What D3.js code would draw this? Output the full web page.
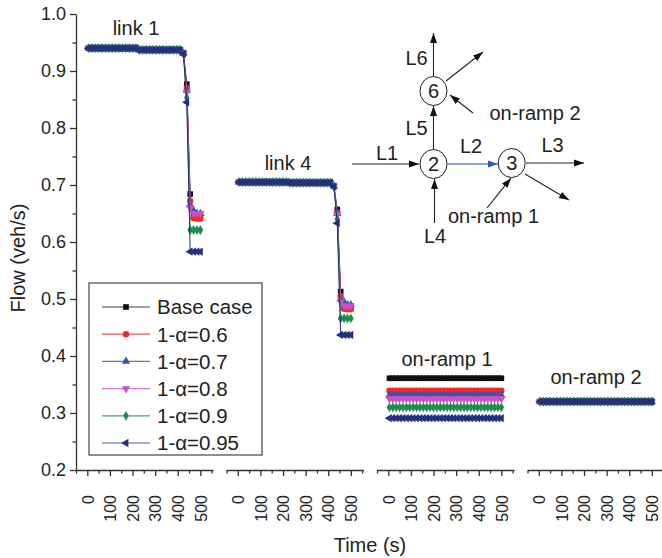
<!DOCTYPE html>
<html><head><meta charset="utf-8">
<script src="https://cdn.jsdelivr.net/npm/d3@7"></script>
<style>
body{margin:0;background:#fff}
svg{display:block}
text{font-family:"Liberation Sans",Arial,Helvetica,sans-serif;fill:#222}
</style>
</head><body>
<svg id="c" width="662" height="558"></svg>
<script>
// ---------- data ----------
const times = [5,20,35,50,65,80,95,110,125,140,155,170,185,200,215,230,245,260,275,290,305,320,335,350,365,380,395,410,425,440,455,470,485,500];
const seriesNames = ["Base case","1-\u03b1=0.6","1-\u03b1=0.7","1-\u03b1=0.8","1-\u03b1=0.9","1-\u03b1=0.95"];
const seriesColors = ["#111111","#f02828","#3a56b0","#c850c8","#1f8c4e","#24307f"];
const panelTitles = ["link 1","link 4","on-ramp 1","on-ramp 2"];
const yMajorTicks = [0.2,0.3,0.4,0.5,0.6,0.7,0.8,0.9,1.0];
const yMinorTicks = [0.25,0.35,0.45,0.55,0.65,0.75,0.85,0.95];
const xMajorTicks = [0,100,200,300,400,500];
const xMinorTicks = [-50,50,150,250,350,450,550];

const link1 = [
 [0.940,0.940,0.940,0.940,0.940,0.940,0.940,0.940,0.940,0.940,0.940,0.940,0.940,0.940,0.940,0.937,0.937,0.937,0.937,0.937,0.937,0.937,0.937,0.937,0.937,0.937,0.937,0.937,0.932,0.877,0.684,0.645,0.645,0.645],
 [0.940,0.940,0.940,0.940,0.940,0.940,0.940,0.940,0.940,0.940,0.940,0.940,0.940,0.940,0.940,0.937,0.937,0.937,0.937,0.937,0.937,0.937,0.937,0.937,0.937,0.937,0.937,0.937,0.931,0.870,0.672,0.642,0.641,0.641],
 [0.940,0.940,0.940,0.940,0.940,0.940,0.940,0.940,0.940,0.940,0.940,0.940,0.940,0.940,0.940,0.937,0.937,0.937,0.937,0.937,0.937,0.937,0.937,0.937,0.937,0.937,0.937,0.937,0.931,0.866,0.665,0.655,0.650,0.650],
 [0.940,0.940,0.940,0.940,0.940,0.940,0.940,0.940,0.940,0.940,0.940,0.940,0.940,0.940,0.940,0.937,0.937,0.937,0.937,0.937,0.937,0.937,0.937,0.937,0.937,0.937,0.937,0.937,0.931,0.863,0.660,0.650,0.650,0.650],
 [0.940,0.940,0.940,0.940,0.940,0.940,0.940,0.940,0.940,0.940,0.940,0.940,0.940,0.940,0.940,0.937,0.937,0.937,0.937,0.937,0.937,0.937,0.937,0.937,0.937,0.937,0.937,0.937,0.930,0.853,0.621,0.621,0.621,0.621],
 [0.940,0.940,0.940,0.940,0.940,0.940,0.940,0.940,0.940,0.940,0.940,0.940,0.940,0.940,0.940,0.937,0.937,0.937,0.937,0.937,0.937,0.937,0.937,0.937,0.937,0.937,0.937,0.937,0.930,0.845,0.583,0.583,0.583,0.583]
];
const link4 = [
 [0.705,0.705,0.705,0.705,0.705,0.705,0.705,0.705,0.705,0.705,0.705,0.705,0.705,0.705,0.705,0.704,0.704,0.704,0.704,0.704,0.704,0.704,0.704,0.704,0.704,0.704,0.704,0.704,0.698,0.657,0.513,0.487,0.487,0.487],
 [0.705,0.705,0.705,0.705,0.705,0.705,0.705,0.705,0.705,0.705,0.705,0.705,0.705,0.705,0.705,0.704,0.704,0.704,0.704,0.704,0.704,0.704,0.704,0.704,0.704,0.704,0.704,0.704,0.698,0.652,0.505,0.483,0.482,0.482],
 [0.705,0.705,0.705,0.705,0.705,0.705,0.705,0.705,0.705,0.705,0.705,0.705,0.705,0.705,0.705,0.704,0.704,0.704,0.704,0.704,0.704,0.704,0.704,0.704,0.704,0.704,0.704,0.704,0.698,0.650,0.500,0.495,0.490,0.490],
 [0.705,0.705,0.705,0.705,0.705,0.705,0.705,0.705,0.705,0.705,0.705,0.705,0.705,0.705,0.705,0.704,0.704,0.704,0.704,0.704,0.704,0.704,0.704,0.704,0.704,0.704,0.704,0.704,0.698,0.648,0.495,0.488,0.488,0.488],
 [0.705,0.705,0.705,0.705,0.705,0.705,0.705,0.705,0.705,0.705,0.705,0.705,0.705,0.705,0.705,0.704,0.704,0.704,0.704,0.704,0.704,0.704,0.704,0.704,0.704,0.704,0.704,0.704,0.697,0.640,0.466,0.466,0.466,0.466],
 [0.705,0.705,0.705,0.705,0.705,0.705,0.705,0.705,0.705,0.705,0.705,0.705,0.705,0.705,0.705,0.704,0.704,0.704,0.704,0.704,0.704,0.704,0.704,0.704,0.704,0.704,0.704,0.704,0.697,0.633,0.437,0.437,0.437,0.437]
];
const onramp1 = [
 [0.361,0.361,0.361,0.361,0.361,0.361,0.361,0.361,0.361,0.361,0.361,0.361,0.361,0.361,0.361,0.361,0.361,0.361,0.361,0.361,0.361,0.361,0.361,0.361,0.361,0.361,0.361,0.361,0.361,0.361,0.361,0.361,0.361,0.361],
 [0.339,0.339,0.339,0.339,0.339,0.339,0.339,0.339,0.339,0.339,0.339,0.339,0.339,0.339,0.339,0.339,0.339,0.339,0.339,0.339,0.339,0.339,0.339,0.339,0.339,0.339,0.339,0.339,0.339,0.339,0.339,0.339,0.339,0.339],
 [0.331,0.331,0.331,0.331,0.331,0.331,0.331,0.331,0.331,0.331,0.331,0.331,0.331,0.331,0.331,0.331,0.331,0.331,0.331,0.331,0.331,0.331,0.331,0.331,0.331,0.331,0.331,0.331,0.331,0.331,0.331,0.331,0.331,0.331],
 [0.325,0.325,0.325,0.325,0.325,0.325,0.325,0.325,0.325,0.325,0.325,0.325,0.325,0.325,0.325,0.325,0.325,0.325,0.325,0.325,0.325,0.325,0.325,0.325,0.325,0.325,0.325,0.325,0.325,0.325,0.325,0.325,0.325,0.325],
 [0.310,0.310,0.310,0.310,0.310,0.310,0.310,0.310,0.310,0.310,0.310,0.310,0.310,0.310,0.310,0.310,0.310,0.310,0.310,0.310,0.310,0.310,0.310,0.310,0.310,0.310,0.310,0.310,0.310,0.310,0.310,0.310,0.310,0.310],
 [0.291,0.291,0.291,0.291,0.291,0.291,0.291,0.291,0.291,0.291,0.291,0.291,0.291,0.291,0.291,0.291,0.291,0.291,0.291,0.291,0.291,0.291,0.291,0.291,0.291,0.291,0.291,0.291,0.291,0.291,0.291,0.291,0.291,0.291]
];
const onramp2 = [
 [0.320,0.320,0.320,0.320,0.320,0.320,0.320,0.320,0.320,0.320,0.320,0.320,0.320,0.320,0.320,0.320,0.320,0.320,0.320,0.320,0.320,0.320,0.320,0.320,0.320,0.320,0.320,0.320,0.320,0.320,0.320,0.320,0.320,0.320],
 [0.320,0.320,0.320,0.320,0.320,0.320,0.320,0.320,0.320,0.320,0.320,0.320,0.320,0.320,0.320,0.320,0.320,0.320,0.320,0.320,0.320,0.320,0.320,0.320,0.320,0.320,0.320,0.320,0.320,0.320,0.320,0.320,0.320,0.320],
 [0.320,0.320,0.320,0.320,0.320,0.320,0.320,0.320,0.320,0.320,0.320,0.320,0.320,0.320,0.320,0.320,0.320,0.320,0.320,0.320,0.320,0.320,0.320,0.320,0.320,0.320,0.320,0.320,0.320,0.320,0.320,0.320,0.320,0.320],
 [0.320,0.320,0.320,0.320,0.320,0.320,0.320,0.320,0.320,0.320,0.320,0.320,0.320,0.320,0.320,0.320,0.320,0.320,0.320,0.320,0.320,0.320,0.320,0.320,0.320,0.320,0.320,0.320,0.320,0.320,0.320,0.320,0.320,0.320],
 [0.320,0.320,0.320,0.320,0.320,0.320,0.320,0.320,0.320,0.320,0.320,0.320,0.320,0.320,0.320,0.320,0.320,0.320,0.320,0.320,0.320,0.320,0.320,0.320,0.320,0.320,0.320,0.320,0.320,0.320,0.320,0.320,0.320,0.320],
 [0.320,0.320,0.320,0.320,0.320,0.320,0.320,0.320,0.320,0.320,0.320,0.320,0.320,0.320,0.320,0.320,0.320,0.320,0.320,0.320,0.320,0.320,0.320,0.320,0.320,0.320,0.320,0.320,0.320,0.320,0.320,0.320,0.320,0.320]
];
const panels = [link1, link4, onramp1, onramp2];

// ---------- layout ----------
const svg = d3.select("#c");
const yTop = 14, yBot = 470;
const panelLeft = [76, 226.5, 377, 527.5];
const panelW = 137;
const xDomain = [-50, 556];
const y = d3.scaleLinear().domain([0.2, 1.0]).range([yBot, yTop]);
const axisColor = "#333";

// symbols
const symTypes = [d3.symbolSquare, d3.symbolCircle, d3.symbolTriangle, d3.symbolTriangle, d3.symbolDiamond, d3.symbolTriangle];
const symRot = [0, 0, 0, 180, 0, -90];
const symSize = [32, 32, 30, 30, 28, 30];
function symbolPath(i){ return d3.symbol().type(symTypes[i]).size(symSize[i])(); }

// y axis
const yAxisG = svg.append("g").attr("transform", `translate(${panelLeft[0]},0)`);
yAxisG.call(d3.axisLeft(y).tickValues(yMajorTicks).tickSize(6).tickSizeOuter(0).tickPadding(4).tickFormat(d3.format(".1f")));
yAxisG.append("g").call(d3.axisLeft(y).tickValues(yMinorTicks).tickSize(3.5).tickFormat(""))
  .select(".domain").remove();
yAxisG.selectAll("path,line").attr("stroke", axisColor).attr("stroke-width", 1.3);
yAxisG.selectAll("text").attr("font-size", 18).attr("fill", "#222")
  .style("font-family", '"Liberation Sans",Arial,sans-serif');

// panels
panels.forEach((data, p) => {
  const x = d3.scaleLinear().domain(xDomain).range([panelLeft[p], panelLeft[p] + panelW]);
  const ax = svg.append("g").attr("transform", `translate(0,${yBot})`);
  ax.call(d3.axisBottom(x).tickValues(xMajorTicks).tickSize(6).tickSizeOuter(0).tickFormat(d3.format("d")));
  ax.append("g").call(d3.axisBottom(x).tickValues(xMinorTicks).tickSize(3.5).tickFormat(""))
    .select(".domain").remove();
  ax.selectAll("path,line").attr("stroke", axisColor).attr("stroke-width", 1.3);
  ax.selectAll("text")
    .attr("transform", "rotate(-90)")
    .attr("x", -25).attr("y", 0).attr("dy", "0.36em")
    .attr("text-anchor", "end")
    .attr("font-size", 16).attr("fill", "#222")
    .style("font-family", '"Liberation Sans",Arial,sans-serif');

  const line = d3.line().x((d, i) => x(times[i])).y(d => y(d));
  data.forEach((vals, s) => {
    const g = svg.append("g");
    g.append("path").datum(vals).attr("d", line)
      .attr("fill", "none").attr("stroke", seriesColors[s]).attr("stroke-width", 1);
    g.selectAll("path.m").data(vals).join("path").attr("class", "m")
      .attr("d", symbolPath(s))
      .attr("transform", (d, i) => `translate(${x(times[i])},${y(d)}) rotate(${symRot[s]})`)
      .attr("fill", seriesColors[s]);
  });
});

// panel titles
const titlePos = [[136, 35], [288, 170], [447, 366], [596, 384]];
panelTitles.forEach((t, i) => {
  svg.append("text").attr("x", titlePos[i][0]).attr("y", titlePos[i][1])
    .attr("text-anchor", "middle").attr("font-size", 20).text(t);
});

// axis titles
svg.append("text").attr("x", 370).attr("y", 552).attr("text-anchor", "middle")
  .attr("font-size", 20).text("Time (s)");
svg.append("text").attr("transform", "translate(25,258) rotate(-90)").attr("text-anchor", "middle")
  .attr("font-size", 20).text("Flow (veh/s)");

// legend
const lg = svg.append("g");
lg.append("rect").attr("x", 89).attr("y", 283).attr("width", 173).attr("height", 172)
  .attr("fill", "#fff").attr("stroke", "#444").attr("stroke-width", 1.2);
seriesNames.forEach((n, i) => {
  const cy = 307 + i * 27.2;
  lg.append("line").attr("x1", 102).attr("x2", 150).attr("y1", cy).attr("y2", cy)
    .attr("stroke", seriesColors[i]).attr("stroke-width", 1.2).attr("stroke-opacity", 0.8);
  lg.append("path").attr("d", symbolPath(i))
    .attr("transform", `translate(126,${cy}) rotate(${symRot[i]})`).attr("fill", seriesColors[i]);
  lg.append("text").attr("x", 157).attr("y", cy).attr("dy", "0.36em")
    .attr("font-size", 20.5).text(n);
});

// network diagram inset
const defs = svg.append("defs");
function arrowDef(id, color){
  defs.append("marker").attr("id", id).attr("viewBox", "0 0 10 10")
    .attr("refX", 10).attr("refY", 5).attr("markerWidth", 10).attr("markerHeight", 10)
    .attr("markerUnits", "userSpaceOnUse").attr("orient", "auto")
    .append("path").attr("d", "M0,1.5 L10,5 L0,8.5 Z").attr("fill", color);
}
arrowDef("ab", "#111");
arrowDef("abl", "#3558b8");
const net = svg.append("g");
const arrows = [
  [352,164,419,164,"ab","#222"],
  [447.5,164,498,164,"abl","#6f85c4"],
  [526,163,584,163,"ab","#222"],
  [525,174,569,200,"ab","#222"],
  [487,208,511,178,"ab","#222"],
  [434.5,223,434.5,179,"ab","#222"],
  [433.5,149,433.5,106,"ab","#222"],
  [433.5,76,433.5,33,"ab","#222"],
  [446,81,483,52,"ab","#222"],
  [473,113,450,95,"ab","#222"]
];
arrows.forEach(a => {
  net.append("line").attr("x1", a[0]).attr("y1", a[1]).attr("x2", a[2]).attr("y2", a[3])
    .attr("stroke", a[5]).attr("stroke-width", a[4] === "abl" ? 1.6 : 1.1)
    .attr("marker-end", `url(#${a[4]})`);
});
const nodes = [[433.5,164,"2"],[511.7,163,"3"],[433.5,91,"6"]];
nodes.forEach(n => {
  net.append("ellipse").attr("cx", n[0]).attr("cy", n[1]).attr("rx", 13.5).attr("ry", 14.5)
    .attr("fill", "#fff").attr("stroke", "#222").attr("stroke-width", 1);
  net.append("text").attr("x", n[0]).attr("y", n[1]).attr("dy", "0.36em")
    .attr("text-anchor", "middle").attr("font-size", 20).text(n[2]);
});
const netLabels = [
  [416.5,65,"L6"],[416.5,135,"L5"],[387,160,"L1"],[471,153,"L2"],[552.5,152,"L3"],
  [435,243,"L4"],[535,120,"on-ramp 2"],[493.5,223,"on-ramp 1"]
];
netLabels.forEach(l => {
  net.append("text").attr("x", l[0]).attr("y", l[1]).attr("text-anchor", "middle")
    .attr("font-size", 20).text(l[2]);
});
</script>
</body></html>
